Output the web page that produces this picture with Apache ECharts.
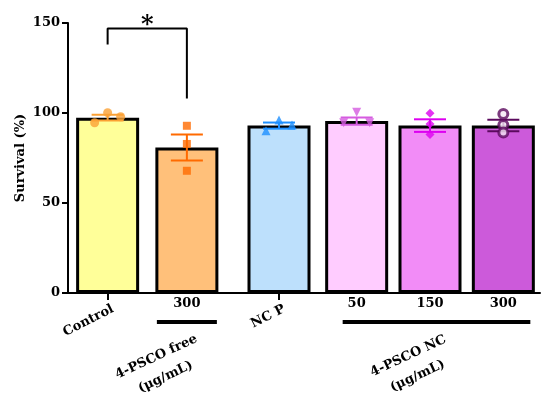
<!DOCTYPE html>
<html>
<head>
<meta charset="utf-8">
<script src="https://cdn.jsdelivr.net/npm/echarts@6/dist/echarts.min.js"></script>
<style>html,body{margin:0;padding:0;background:#fff}#c{width:550px;height:393px}</style>
</head>
<body>
<div id="c"></div>
<script>
// ---- data ----
const tickLabels = ['Control', '300', 'NC P', '50', '150', '300'];
const groupLabels = ['4-PSCO free\n(μg/mL)', '4-PSCO NC\n(μg/mL)'];
const barMeans = [97.4, 80.8, 93, 95.5, 93, 93];
const barSem = [1.6, 7.2, 1.7, 2.0, 3.5, 3.2];
const rep1 = [94.6, 92.9, 90.2, 94.6, 99.8, 99.4];
const rep2 = [100.2, 82.8, 96.1, 100.4, 93.9, 93.3];
const rep3 = [97.9, 67.9, 93.3, 94.6, 88.0, 89.1];
const yTicks = [0, 50, 100, 150];
const sigBracket = [138, 147, 108]; // left foot, top, right foot (y values)
const sigText = '*';

// ---- styles / layout ----
const FONT = '"DejaVu Serif",serif';
const FS = 13;
const barColors = ['#FFFF99', '#FFC07A', '#BDE0FC', '#FFCCFF', '#F28CF7', '#CC5ADA'];
const ptColors = ['#FBA134', '#FF6A00', '#1E90FF', '#D55BE0', '#DD00F0', '#5B0A5E'];
const ptSymbols = ['circle', 'rect', 'triangle', 'triangle', 'diamond', 'ring'];
const ptRotate = [0, 0, 0, 180, 0, 0];
const ptSize = [9, 8, 9, 9, 9, 9];
// index ranges of categories drawn in each grid
const gridRanges = [[0, 2], [2, 3], [3, 6]];
const gridBoxes = [
  {left: 68, right: 323.5, top: 23, bottom: 100, outerBoundsMode: 'none', containLabel: false},
  {left: 226.5, right: 218.5, top: 23, bottom: 100, outerBoundsMode: 'none', containLabel: false},
  {left: 320, right: 10, top: 23, bottom: 100, outerBoundsMode: 'none', containLabel: false}
];

const chart = echarts.init(document.getElementById('c'), null, {renderer: 'canvas'});

function spreadOffsets(vals) {
  const range = Math.max(...vals) - Math.min(...vals);
  return range < 8 ? [-13, 0, 13] : [0, 0, 0];
}

function barSeries(gi, from, to) {
  return {
    type: 'bar', xAxisIndex: gi, yAxisIndex: gi, barWidth: 63, z: 2,
    data: barMeans.slice(from, to).map((v, k) => ({
      value: v,
      itemStyle: {color: barColors[from + k]}
    })),
    itemStyle: {borderColor: '#000', borderWidth: 3}
  };
}
function errSeries(gi, from, to) {
  return {
    type: 'custom', xAxisIndex: gi, yAxisIndex: gi, z: 4,
    data: barMeans.slice(from, to).map((v, k) => [k, v, barSem[from + k]]),
    renderItem: function (params, api) {
      const x = api.value(0), m = api.value(1), s = api.value(2);
      const t = api.coord([x, m + s]), b = api.coord([x, m - s]);
      const c = ptColors[from + params.dataIndex];
      const hw = 16;
      const st = {stroke: c, lineWidth: 2};
      return {type: 'group', children: [
        {type: 'line', shape: {x1: t[0], y1: t[1], x2: b[0], y2: b[1]}, style: st},
        {type: 'line', shape: {x1: t[0] - hw, y1: t[1], x2: t[0] + hw, y2: t[1]}, style: st},
        {type: 'line', shape: {x1: b[0] - hw, y1: b[1], x2: b[0] + hw, y2: b[1]}, style: st}
      ]};
    }
  };
}
function ptSeries(gi, from, to) {
  const data = [];
  for (let i = from; i < to; i++) {
    const vals = [rep1[i], rep2[i], rep3[i]];
    const offs = spreadOffsets(vals);
    vals.forEach((v, r) => {
      const ring = ptSymbols[i] === 'ring';
      data.push({
        value: [i - from, v],
        symbol: ring ? 'circle' : ptSymbols[i],
        symbolSize: ptSize[i],
        symbolRotate: ptRotate[i],
        symbolOffset: [offs[r], 0],
        itemStyle: ring ? {color: '#f4e6f4', borderColor: ptColors[i], borderWidth: 3}
                        : {color: ptColors[i]}
      });
    });
  }
  return {type: 'scatter', xAxisIndex: gi, yAxisIndex: gi, z: 5, data: data};
}

const labelBase = {fontFamily: FONT, fontWeight: 'bold', color: '#000'};
const cats = gridRanges.map(r => tickLabels.slice(r[0], r[1]));

const yBase = {
  type: 'value', min: yTicks[0], max: yTicks[yTicks.length - 1], interval: yTicks[1] - yTicks[0],
  splitLine: {show: false}
};
const axLine = {lineStyle: {color: '#000', width: 2}};
const tickStyle = {show: true, alignWithLabel: true, length: 7, lineStyle: {color: '#000', width: 2}};
const rotLabel = Object.assign({interval: 0, fontSize: FS, margin: 18, rotate: 27, padding: [0, -6, 0, 0]}, labelBase);

const series = [];
gridRanges.forEach((r, gi) => {
  series.push(barSeries(gi, r[0], r[1]), errSeries(gi, r[0], r[1]), ptSeries(gi, r[0], r[1]));
});
series.push({type: 'line', xAxisIndex: 0, yAxisIndex: 0, z: 6, symbol: 'none', silent: true,
  lineStyle: {color: '#000', width: 2},
  data: [[0, sigBracket[0]], [0, sigBracket[1]], [1, sigBracket[1]], [1, sigBracket[2]]]});

const option = {
  animation: false,
  backgroundColor: '#fff',
  grid: gridBoxes,
  xAxis: [
    {gridIndex: 0, type: 'category', position: 'bottom', data: cats[0], axisLine: axLine,
     axisTick: Object.assign({}, tickStyle, {interval: (i) => i === 0}),
     axisLabel: Object.assign({interval: 0, fontSize: FS, margin: 4,
                formatter: (v, i) => (i === 1 ? v : '')}, labelBase)},
    {gridIndex: 1, type: 'category', position: 'bottom', data: cats[1], axisLine: axLine,
     axisTick: tickStyle, axisLabel: rotLabel},
    {gridIndex: 2, type: 'category', position: 'bottom', data: cats[2], axisLine: axLine,
     axisTick: {show: false},
     axisLabel: Object.assign({interval: 0, fontSize: FS, margin: 4}, labelBase)},
    {gridIndex: 0, type: 'category', position: 'bottom', offset: 0, data: cats[0],
     axisLine: {show: false}, axisTick: {show: false},
     axisLabel: Object.assign({}, rotLabel, {formatter: (v, i) => (i === 0 ? v : '')})}
  ],
  yAxis: [
    Object.assign({gridIndex: 0,
      axisLine: {show: true, lineStyle: {color: '#000', width: 2}},
      axisTick: {show: true, length: 6, lineStyle: {color: '#000', width: 2}},
      axisLabel: Object.assign({fontSize: FS, margin: 8}, labelBase),
      name: 'Survival (%)', nameLocation: 'middle', nameGap: 41, nameRotate: 90,
      nameTextStyle: Object.assign({fontSize: FS}, labelBase)}, yBase),
    Object.assign({gridIndex: 1, show: false}, yBase),
    Object.assign({gridIndex: 2, show: false}, yBase)
  ],
  series: series
};
chart.setOption(option);

// annotations positioned from the axes
const pA0 = chart.convertToPixel({xAxisIndex: 0, yAxisIndex: 0}, [0, sigBracket[1]]);
const pA1 = chart.convertToPixel({xAxisIndex: 0, yAxisIndex: 0}, [1, sigBracket[1]]);
const pC0 = chart.convertToPixel({xAxisIndex: 2, yAxisIndex: 2}, [0, 0]);
const pC1 = chart.convertToPixel({xAxisIndex: 2, yAxisIndex: 2}, [1, 0]);
const pC2 = chart.convertToPixel({xAxisIndex: 2, yAxisIndex: 2}, [2, 0]);
const rot = 25 * Math.PI / 180;
const baseY = pC0[1];

chart.setOption({
  graphic: [
    {type: 'text', x: (pA0[0] + pA1[0]) / 2, y: pA0[1] - 3, z: 10,
     style: {text: sigText, font: 'bold 24px ' + FONT, fill: '#000', align: 'center', verticalAlign: 'middle'}},
    {type: 'rect', shape: {x: pA1[0] - 30, y: baseY + 27, width: 60, height: 4}, style: {fill: '#000'}},
    {type: 'rect', shape: {x: pC0[0] - 14, y: baseY + 27, width: pC2[0] + 27 - (pC0[0] - 14), height: 4}, style: {fill: '#000'}},
    {type: 'text', x: pA1[0] - 26, y: baseY + 74, rotation: rot, z: 10,
     style: {text: groupLabels[0], font: 'bold ' + FS + 'px ' + FONT, fill: '#000', align: 'center', verticalAlign: 'middle', lineHeight: 22}},
    {type: 'text', x: pC1[0] - 17, y: baseY + 73, rotation: rot, z: 10,
     style: {text: groupLabels[1], font: 'bold ' + FS + 'px ' + FONT, fill: '#000', align: 'center', verticalAlign: 'middle', lineHeight: 22}}
  ]
});
</script>
</body>
</html>
